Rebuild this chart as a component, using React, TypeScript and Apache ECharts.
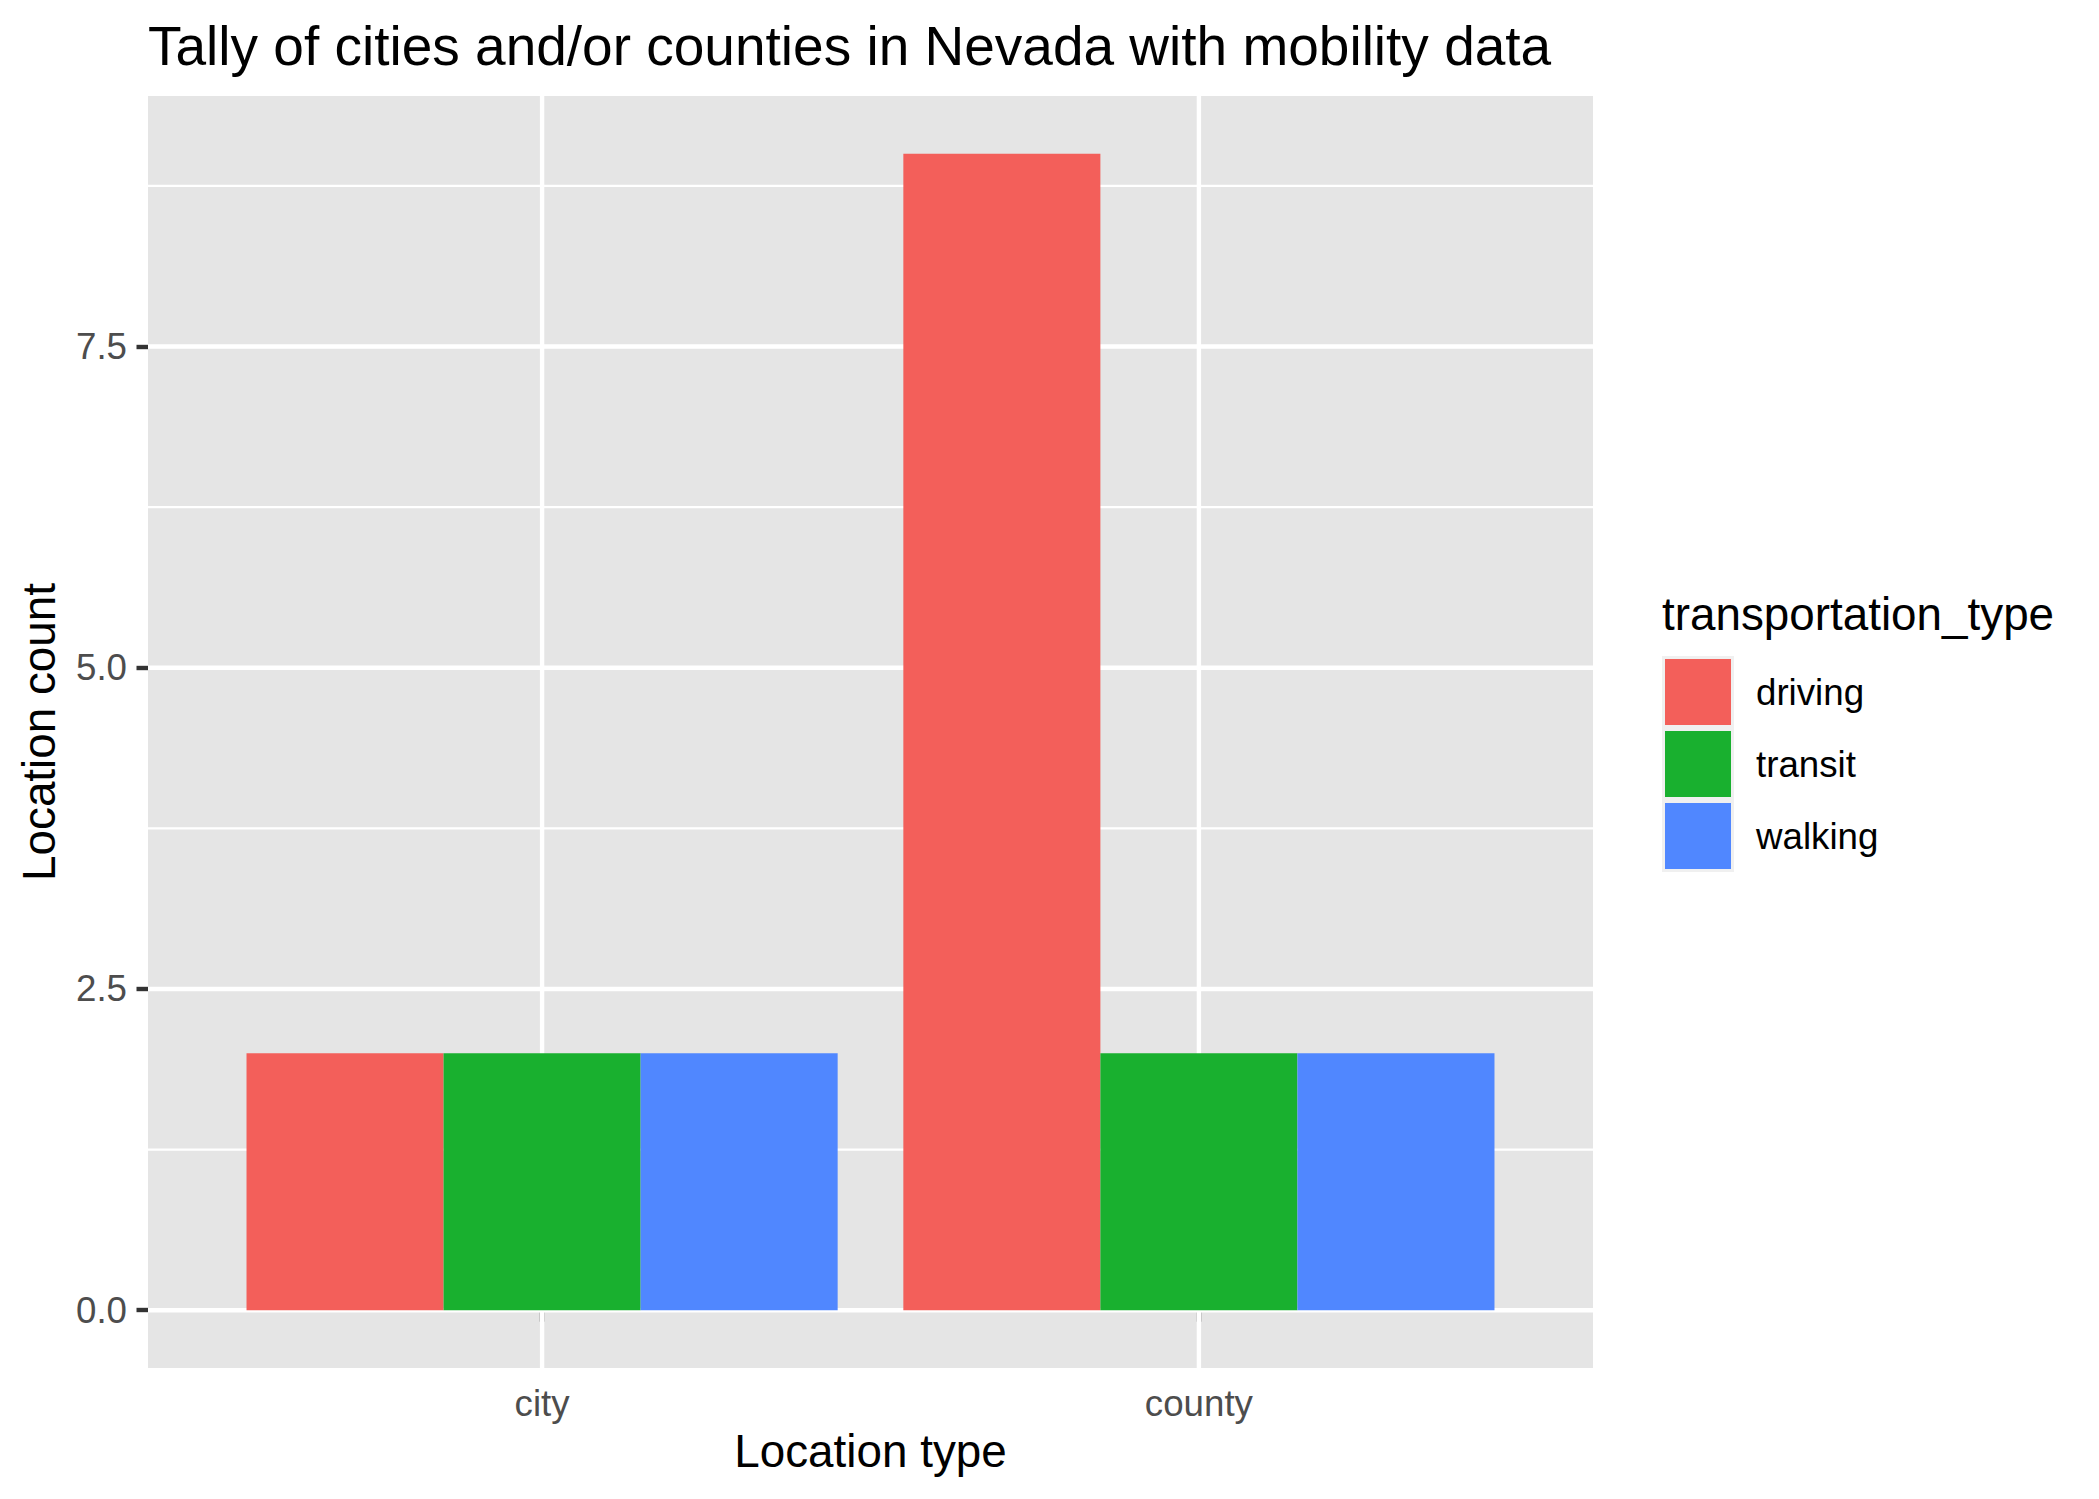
import React, { useEffect, useRef } from "react";
import * as echarts from "echarts";

const categories = ["city", "county"];
const seriesNames = ["driving", "transit", "walking"];
const driving = [2, 9];
const transit = [2, 2];
const walking = [2, 2];
const seriesColors = ["#F35F5A", "#19B02F", "#5087FF"];
const yTicks = [0, 2.5, 5, 7.5];
const yMinor = [1.25, 3.75, 6.25, 8.75];
const xCatPositions = [1, 2];
const yRange = [-0.45, 9.45];
const xRange = [0.4, 2.6];

const titleText = "Tally of cities and/or counties in Nevada with mobility data";
const xTitle = "Location type";
const yTitle = "Location count";
const legendTitle = "transportation_type";

const FONT = '"Liberation Sans", Arial, Helvetica, sans-serif';

export default function App() {
  const ref = useRef<HTMLDivElement>(null);
  useEffect(() => {
    document.body.style.margin = "0";
    document.body.style.overflow = "hidden";
    if (!ref.current) return;
    const chart = echarts.init(ref.current, undefined, { renderer: "svg" });

    const P = { left: 148, top: 96, width: 1445, height: 1272 };
    const band = P.width / (xRange[1] - xRange[0]);
    const barGrid = {
      left: P.left + (1 - 0.5 - xRange[0]) * band,
      top: P.top,
      width: band * categories.length,
      height: P.height,
    };

    const gridData: any[] = [];
    yMinor.forEach((v) => gridData.push([0, v]));
    yTicks.forEach((v) => gridData.push([1, v]));
    xCatPositions.forEach((v) => gridData.push([2, v]));

    const values = [driving, transit, walking];

    const option: any = {
      animation: false,
      textStyle: { fontFamily: FONT },
      grid: [
        {
          left: P.left,
          top: P.top,
          width: P.width,
          height: P.height,
          show: true,
          backgroundColor: "#E5E5E5",
          borderWidth: 0,
        },
        {
          left: barGrid.left,
          top: barGrid.top,
          width: barGrid.width,
          height: barGrid.height,
          show: false,
        },
      ],
      xAxis: [
        {
          type: "value",
          gridIndex: 0,
          min: xRange[0],
          max: xRange[1],
          show: false,
        },
        {
          type: "category",
          gridIndex: 1,
          data: categories,
          axisLine: { show: false },
          axisTick: {
            show: true,
            alignWithLabel: true,
            length: 11.5,
            lineStyle: { color: "#333333", width: 4.4 },
          },
          axisLabel: {
            color: "#4D4D4D",
            fontSize: 36.7,
            fontFamily: FONT,
            margin: 17,
          },
          splitLine: { show: false },
        },
      ],
      yAxis: [
        {
          type: "value",
          gridIndex: 0,
          min: yRange[0],
          max: yRange[1],
          axisLine: { show: false },
          axisTick: {
            show: true,
            customValues: yTicks,
            length: 11.5,
            lineStyle: { color: "#333333", width: 4.4 },
          },
          axisLabel: {
            customValues: yTicks,
            color: "#4D4D4D",
            fontSize: 36.7,
            fontFamily: FONT,
            margin: 21,
            formatter: (v: number) => v.toFixed(1),
          },
          splitLine: { show: false },
          minorSplitLine: { show: false },
        },
        {
          type: "value",
          gridIndex: 1,
          min: yRange[0],
          max: yRange[1],
          show: false,
        },
      ],
      legend: {
        data: seriesNames,
        orient: "vertical",
        left: 1665,
        top: 659,
        padding: 0,
        itemWidth: 66,
        itemHeight: 66,
        itemGap: 6,
        icon: "rect",
        selectedMode: false,
        textStyle: {
          fontSize: 36.7,
          color: "#000000",
          fontFamily: FONT,
          padding: [0, 0, 0, 20],
        },
      },
      graphic: [
        {
          type: "rect",
          shape: { x: 1662, y: 656, width: 72, height: 216 },
          style: { fill: "#F0F0F0" },
          z: -1,
        },
        {
          type: "text",
          x: 148,
          y: 45.5,
          style: {
            text: titleText,
            fontSize: 55,
            fontFamily: FONT,
            fill: "#000000",
            align: "left",
            verticalAlign: "middle",
          },
        },
        {
          type: "text",
          x: P.left + P.width / 2,
          y: 1451,
          style: {
            text: xTitle,
            fontSize: 45.8,
            fontFamily: FONT,
            fill: "#000000",
            align: "center",
            verticalAlign: "middle",
          },
        },
        {
          type: "text",
          x: 39,
          y: P.top + P.height / 2,
          rotation: Math.PI / 2,
          style: {
            text: yTitle,
            fontSize: 45.8,
            fontFamily: FONT,
            fill: "#000000",
            align: "center",
            verticalAlign: "middle",
          },
        },
        {
          type: "text",
          x: 1662,
          y: 614,
          style: {
            text: legendTitle,
            fontSize: 45.8,
            fontFamily: FONT,
            fill: "#000000",
            align: "left",
            verticalAlign: "middle",
          },
        },
      ],
      series: [
        {
          type: "custom",
          name: "grid",
          xAxisIndex: 0,
          yAxisIndex: 0,
          z: 1,
          silent: true,
          data: gridData,
          renderItem: (params: any, api: any) => {
            const kind = api.value(0);
            const v = api.value(1);
            const cs = params.coordSys;
            if (kind === 2) {
              const x = api.coord([v, 0])[0];
              return {
                type: "line",
                shape: { x1: x, y1: cs.y, x2: x, y2: cs.y + cs.height },
                style: { stroke: "#FFFFFF", lineWidth: 4.4 },
              };
            }
            const y = api.coord([1, v])[1];
            return {
              type: "line",
              shape: { x1: cs.x, y1: y, x2: cs.x + cs.width, y2: y },
              style: { stroke: "#FFFFFF", lineWidth: kind === 1 ? 4.4 : 2.2 },
            };
          },
        },
        ...seriesNames.map((name, i) => ({
          type: "bar",
          name,
          xAxisIndex: 1,
          yAxisIndex: 1,
          data: values[i],
          barGap: "0%",
          barCategoryGap: "10%",
          itemStyle: { color: seriesColors[i] },
          z: 2,
          silent: true,
        })),
      ],
    };
    chart.setOption(option);
    return () => chart.dispose();
  }, []);
  return <div ref={ref} style={{ width: 2099, height: 1499 }} />;
}
